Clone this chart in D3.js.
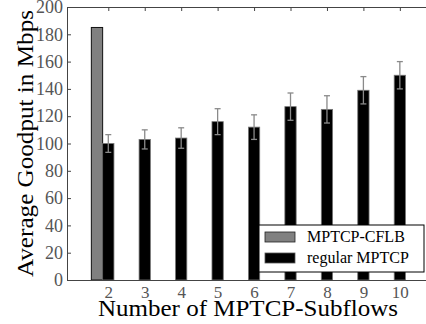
<html>
<head>
<style>
  body { margin: 0; background: #fff; }
  svg { display: block; }
  .chart text { font-family: "Liberation Serif", "DejaVu Serif", serif; }
  .axis path, .axis line { stroke: #444; }
  .axis text { fill: #555; font-size: 18px; }
  .xaxis text { font-size: 17px; }
</style>
</head>
<body>
<svg class="chart" width="426" height="324"></svg>
<script src="https://d3js.org/d3.v7.min.js"></script>
<script>
// values
var subflows = [2, 3, 4, 5, 6, 7, 8, 9, 10];
var cflbFlows = [2];
var cflbValues = [185];
var regularValues = [100, 103, 104, 116, 112, 127, 125, 139, 150];
var regularErrors = [6.5, 7, 7.5, 9.5, 9, 10, 10, 10, 10];
var yTicks = [0, 20, 40, 60, 80, 100, 120, 140, 160, 180, 200];
var seriesNames = ["MPTCP-CFLB", "regular MPTCP"];

var plotLeft = 67, plotRight = 429, plotTop = 7, plotBottom = 280;
var barW = 0.31;

var x = d3.scaleLinear().domain([0.867, 10.8]).range([plotLeft, plotRight]);
var y = d3.scaleLinear().domain([0, 200]).range([plotBottom, plotTop]);

var chart = d3.select('.chart');

// bars
chart.selectAll('.cflb')
  .data(cflbFlows)
  .enter().append('rect')
  .attr('class', 'cflb')
  .attr('x', function(d) { return x(d - barW * 1.5); })
  .attr('width', x(barW) - x(0))
  .attr('y', function(d, i) { return y(cflbValues[i]); })
  .attr('height', function(d, i) { return y(0) - y(cflbValues[i]); })
  .style('fill', '#808080')
  .style('stroke', '#111')
  .style('stroke-width', 1);

chart.selectAll('.regular')
  .data(subflows)
  .enter().append('rect')
  .attr('class', 'regular')
  .attr('x', function(d) { return x(d - barW / 2); })
  .attr('width', x(barW) - x(0))
  .attr('y', function(d, i) { return y(regularValues[i]); })
  .attr('height', function(d, i) { return y(0) - y(regularValues[i]); })
  .style('fill', '#000')
  .style('stroke', '#777')
  .style('stroke-width', 0.8);

// error bars
var err = chart.selectAll('.err')
  .data(subflows)
  .enter().append('g')
  .attr('class', 'err')
  .style('stroke', '#8a8a8a')
  .style('stroke-width', 1.3);

err.append('line')
  .attr('x1', function(d) { return x(d); })
  .attr('x2', function(d) { return x(d); })
  .attr('y1', function(d, i) { return y(regularValues[i] + regularErrors[i]); })
  .attr('y2', function(d, i) { return y(regularValues[i] - regularErrors[i]); });

[1, -1].forEach(function(s) {
  err.append('line')
    .attr('x1', function(d) { return x(d) - 3; })
    .attr('x2', function(d) { return x(d) + 3; })
    .attr('y1', function(d, i) { return y(regularValues[i] + s * regularErrors[i]); })
    .attr('y2', function(d, i) { return y(regularValues[i] + s * regularErrors[i]); });
});

// axes
chart.append('g')
  .attr('class', 'axis')
  .attr('transform', 'translate(' + plotLeft + ',0)')
  .call(d3.axisLeft(y).tickValues(yTicks).tickSize(-4).tickPadding(4).tickSizeOuter(0));

chart.append('g')
  .attr('class', 'axis')
  .attr('transform', 'translate(0,' + plotTop + ')')
  .call(d3.axisTop(x).tickValues(subflows).tickSize(-4).tickSizeOuter(0).tickFormat(''));

chart.append('g')
  .attr('class', 'axis xaxis')
  .attr('transform', 'translate(0,' + plotBottom + ')')
  .call(d3.axisBottom(x).tickValues(subflows).tickSize(0).tickPadding(6).tickSizeOuter(0));

chart.append('line')
  .attr('x1', plotRight).attr('x2', plotRight).attr('y1', plotTop).attr('y2', plotBottom)
  .style('stroke', '#444');

// axis titles
chart.append('text')
  .text('Number of MPTCP-Subflows')
  .attr('x', 248)
  .attr('y', 316)
  .attr('text-anchor', 'middle')
  .attr('textLength', 300)
  .attr('lengthAdjust', 'spacingAndGlyphs')
  .style('font-size', '23px')
  .style('fill', '#000');

chart.append('text')
  .text('Average Goodput in Mbps')
  .attr('transform', 'translate(33,' + (plotTop + plotBottom) / 2 + ') rotate(-90)')
  .attr('text-anchor', 'middle')
  .attr('textLength', 267)
  .attr('lengthAdjust', 'spacingAndGlyphs')
  .style('font-size', '24px')
  .style('fill', '#000');

// legend
var legend = chart.append('g').attr('transform', 'translate(259,225)');
legend.append('rect')
  .attr('width', 165).attr('height', 47)
  .style('fill', '#fff').style('stroke', '#000').style('stroke-width', 1);

var items = legend.selectAll('.item')
  .data(seriesNames)
  .enter().append('g')
  .attr('transform', function(d, i) { return 'translate(6,' + (7 + i * 21) + ')'; });

items.append('rect')
  .attr('width', 30).attr('height', 10)
  .style('fill', function(d, i) { return i === 0 ? '#808080' : '#000'; })
  .style('stroke', function(d, i) { return i === 0 ? '#222' : '#555'; })
  .style('stroke-width', 0.8);

items.append('text')
  .text(function(d) { return d; })
  .attr('x', 42)
  .attr('y', 10)
  .style('font-size', '16px')
  .style('fill', '#000');
</script>
</body>
</html>
